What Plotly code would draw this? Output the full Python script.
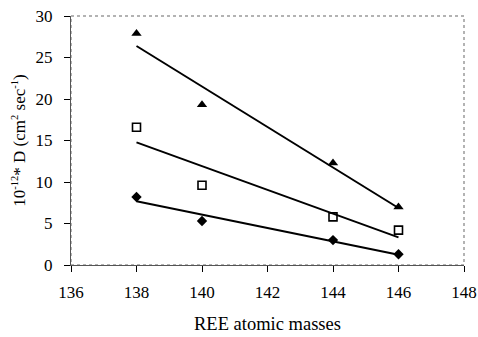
import numpy as np
import plotly.graph_objects as go

masses = [138, 140, 144, 146]
d_triangle = [27.9, 19.3, 12.3, 7.0]
d_square = [16.6, 9.6, 5.8, 4.2]
d_diamond = [8.2, 5.3, 3.0, 1.3]

x_ticks = [136, 138, 140, 142, 144, 146, 148]
y_ticks = [0, 5, 10, 15, 20, 25, 30]

fig = go.Figure()

series = [
    (d_triangle, dict(symbol="triangle-up", size=9, color="black")),
    (d_square, dict(symbol="square-open", size=8, color="black", line=dict(width=1.6, color="black"))),
    (d_diamond, dict(symbol="diamond", size=8, color="black")),
]

for ys, marker in series:
    slope, intercept = np.polyfit(masses, ys, 1)
    xs = [masses[0], masses[-1]]
    fig.add_trace(go.Scatter(x=xs, y=[slope * v + intercept for v in xs], mode="lines",
                             line=dict(color="black", width=2), showlegend=False, hoverinfo="skip"))
    fig.add_trace(go.Scatter(x=masses, y=ys, mode="markers", marker=marker, showlegend=False))

fig.add_shape(type="rect", xref="paper", yref="paper", x0=0, y0=0, x1=1, y1=1,
              line=dict(color="#9a9a9a", width=1.5, dash="dot"), layer="below")

FAMILY = "Liberation Serif, Times New Roman, serif"
tickfont = dict(family=FAMILY, size=17, color="black")

y_title = ("10<sup><span style='font-size:10.5px'>-12</span></sup>* D (cm"
           "<sup><span style='font-size:10.5px'>2</span></sup> sec"
           "<sup><span style='font-size:10.5px'>-1</span></sup>)")

fig.update_layout(
    width=478, height=337,
    margin=dict(l=71, r=14, t=16, b=72),
    paper_bgcolor="white", plot_bgcolor="white",
    font=dict(family=FAMILY, size=15, color="black"),
    xaxis=dict(range=[136, 148], tickvals=x_ticks, ticks="outside", ticklen=6, tickcolor="black",
               tickfont=tickfont, ticklabelstandoff=6, ticklabeloverflow="allow",
               showline=True, linecolor="#555", linewidth=1, showgrid=False, zeroline=False,
               automargin=False,
               title=dict(text="REE atomic masses", standoff=15,
                          font=dict(family=FAMILY, size=18.5, color="black"))),
    yaxis=dict(range=[0, 30], tickvals=y_ticks, ticks="outside", ticklen=6, tickcolor="black",
               tickfont=tickfont, ticklabelstandoff=8, ticklabeloverflow="allow",
               showline=True, linecolor="#555", linewidth=1, showgrid=False, zeroline=False,
               automargin=False,
               title=dict(text=y_title, standoff=5,
                          font=dict(family=FAMILY, size=17, color="black"))),
)

fig.write_html("out.html", config={"displayModeBar": False},
               post_script="document.body.style.margin='0';document.body.style.overflow='hidden';")
